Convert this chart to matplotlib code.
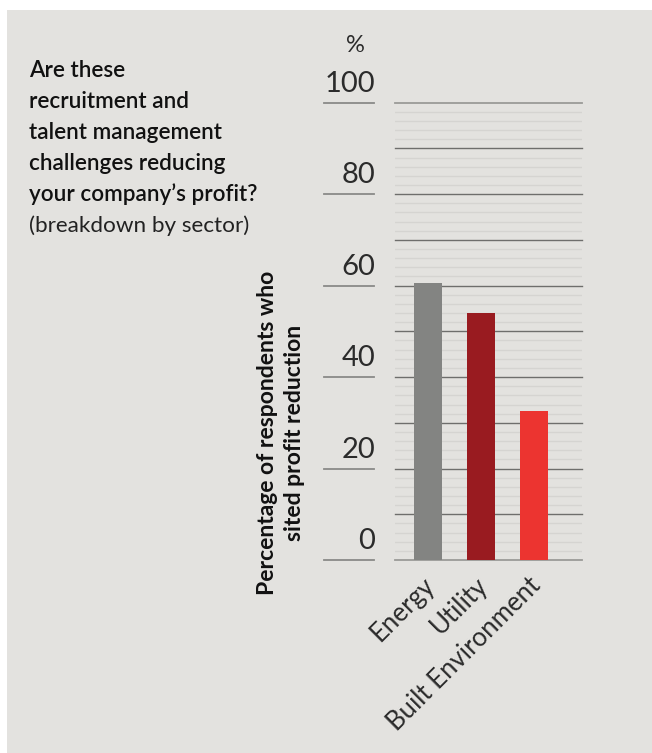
import matplotlib
matplotlib.use("Agg")
import matplotlib.pyplot as plt
import matplotlib.transforms as mtransforms
from matplotlib.patches import Rectangle

# Data
sectors = ["Energy", "Utility", "Built Environment"]
share_pct = [60.5, 54.0, 32.5]
bar_colors = ["#838482", "#991b20", "#ec3430"]
ytick_values = [0, 20, 40, 60, 80, 100]

title_lines = ["Are these", "recruitment and", "talent management",
               "challenges reducing", "your company\u2019s profit?"]
subtitle = "(breakdown by sector)"
ylabel = "Percentage of respondents who\nsited profit reduction"

W, H = 652, 753
fig = plt.figure(figsize=(W / 100, H / 100), dpi=100)
fig.patch.set_facecolor("white")
bg = "#e3e2df"
fig.patches.append(Rectangle((7 / W, 0), 1, (H - 10) / H, transform=fig.transFigure,
                             facecolor=bg, edgecolor="none", zorder=-10))

FONT = "Lato"
TXT = "#2b2b2b"


def fx(px):
    return px / W


def fy(py):
    return 1 - py / H


left, right, top, bottom = 395, 582, 102.7, 560
ax = fig.add_axes([fx(left), fy(bottom), fx(right - left), (bottom - top) / H])
ax.set_facecolor("none")
ax.set_ylim(0, 100)
ax.set_xlim(-0.62, 2.91)

# Horizontal grid: light every 2, darker every 10
for v in range(0, 101, 2):
    if v % 10 == 0:
        continue
    ax.axhline(v, color="#d5d4d1", lw=1.0, zorder=0)
for v in range(0, 101, 10):
    col = "#9a9a98" if v in (0, 100) else "#6e6e6c"
    ax.axhline(v, color=col, lw=1.3 if v in (0, 100) else 1.0, zorder=1, clip_on=False)

x = list(range(len(sectors)))
ax.bar(x, share_pct, width=0.53, color=bar_colors, zorder=2)

for s in ax.spines.values():
    s.set_visible(False)
ax.set_yticks([])
ax.set_xticks(x)
ax.set_xticklabels(sectors, rotation=45, ha="right", rotation_mode="anchor",
                   fontsize=18.5, fontfamily=FONT, fontweight="normal", color=TXT)
ax.tick_params(axis="x", length=0, pad=9)
shift = mtransforms.ScaledTranslation(-6 / 100, 0, fig.dpi_scale_trans)
for lab in ax.get_xticklabels():
    lab.set_transform(lab.get_transform() + shift)

# Left-hand scale: short rules with the value sitting above each
trans = mtransforms.blended_transform_factory(fig.transFigure, ax.transData)
for v in ytick_values:
    ax.plot([fx(324), fx(374)], [v, v], transform=trans, color="#8a8a88",
            lw=1.3, clip_on=False)
    ax.text(fx(375), v + 1.3, str(v), transform=trans, ha="right", va="bottom",
            fontsize=21, fontfamily=FONT, fontweight="normal", color=TXT)
fig.text(fx(355), fy(46), "%", ha="center", va="center", fontsize=17,
         fontfamily=FONT, fontweight="normal", color=TXT)

# Axis title
fig.text(fx(281), fy(433), ylabel, rotation=90, ha="center", va="center",
         fontsize=16.5, fontfamily=FONT, fontweight="bold", color="#111111",
         linespacing=1.3, multialignment="center")

# Question
for i, line in enumerate(title_lines):
    fig.text(fx(29), fy(77 + 31 * i), line, ha="left", va="baseline",
             fontsize=16.2, fontfamily=FONT, fontweight="semibold", color="#111111")
fig.text(fx(29), fy(77 + 31 * 5), subtitle, ha="left", va="baseline",
         fontsize=16.2, fontfamily=FONT, fontweight="normal", color="#222222")

fig.savefig("out.png", dpi=100, facecolor=fig.get_facecolor())
